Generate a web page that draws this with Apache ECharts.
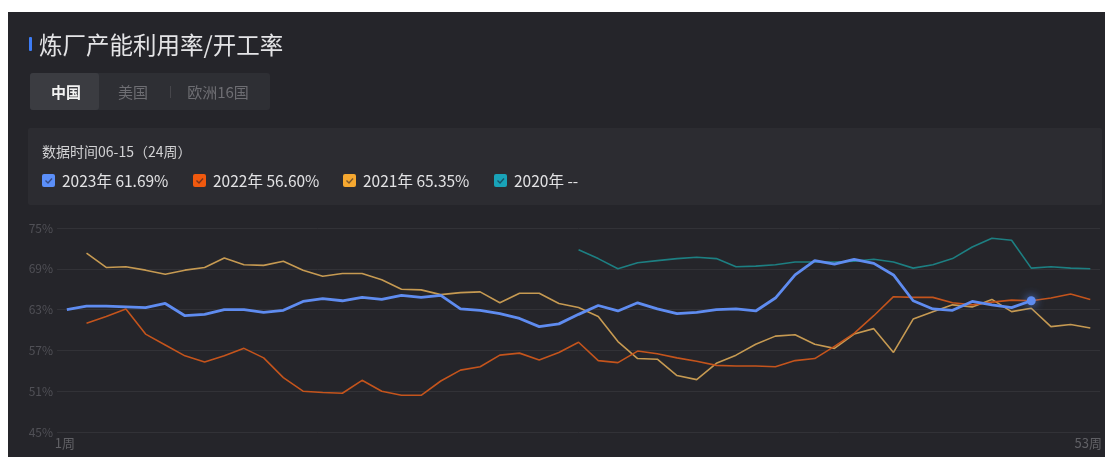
<!DOCTYPE html>
<html>
<head>
<meta charset="utf-8">
<title>炼厂产能利用率/开工率</title>
<script src="https://cdn.jsdelivr.net/npm/echarts@6/dist/echarts.min.js"></script>
<style>
    html, body { margin: 0; padding: 0; background: #ffffff; }
    #main { width: 1105px; height: 457px; }
</style>
</head>
<body>
<div id="main"></div>
<script>
var weeks = [];
for (var i = 1; i <= 53; i++) {
    weeks.push(i + '周');
}

var years = ['2023年', '2022年', '2021年', '2020年'];
var latest = ['61.69%', '56.60%', '65.35%', '--'];
var tabs = ['中国', '美国', '欧洲16国'];
var yTicks = [45, 75, 6];

var s2023 = [63.0, 63.5, 63.5, 63.4, 63.3, 63.9, 62.1, 62.3, 63.0, 63.0,
    62.6, 62.9, 64.2, 64.6, 64.3, 64.8, 64.5, 65.1, 64.8, 65.1,
    63.1, 62.9, 62.4, 61.7, 60.5, 60.9, 62.3, 63.6, 62.8, 64.0,
    63.1, 62.4, 62.6, 63.0, 63.1, 62.8, 64.7, 68.1, 70.2, 69.7,
    70.4, 69.8, 68.1, 64.3, 63.1, 62.9, 64.2, 63.7, 63.3, 64.3,
    null, null, null];
var s2022 = [null, 61.0, 62.0, 63.1, 59.4, 57.8, 56.2, 55.3, 56.2, 57.3,
    55.9, 53.0, 51.0, 50.8, 50.7, 52.6, 51.0, 50.4, 50.4, 52.5,
    54.1, 54.6, 56.3, 56.6, 55.6, 56.7, 58.2, 55.5, 55.2, 56.9,
    56.5, 55.9, 55.4, 54.8, 54.7, 54.7, 54.6, 55.5, 55.8, 57.6,
    59.5, 62.1, 64.9, 64.8, 64.8, 64.0, 63.7, 64.1, 64.4, 64.3,
    64.7, 65.3, 64.5];
var s2021 = [null, 71.3, 69.2, 69.3, 68.8, 68.2, 68.8, 69.2, 70.6, 69.6,
    69.5, 70.1, 68.8, 67.9, 68.3, 68.3, 67.4, 66.0, 65.9, 65.2,
    65.5, 65.6, 64.0, 65.4, 65.4, 63.9, 63.3, 62.0, 58.3, 55.8,
    55.7, 53.3, 52.7, 55.1, 56.3, 57.9, 59.1, 59.3, 57.9, 57.3,
    59.4, 60.2, 56.7, 61.6, 62.7, 63.7, 63.4, 64.5, 62.7, 63.2,
    60.5, 60.8, 60.3];
var s2020 = [null, null, null, null, null, null, null, null, null, null,
    null, null, null, null, null, null, null, null, null, null,
    null, null, null, null, null, null, 71.8, 70.5, 69.0, 69.9,
    70.2, 70.5, 70.7, 70.5, 69.3, 69.4, 69.6, 70.0, 70.0, 70.0,
    70.1, 70.4, 70.0, 69.1, 69.6, 70.5, 72.2, 73.5, 73.2, 69.1,
    69.3, 69.1, 69.0];

var boxColors = ['#5b8ff9', '#f0590e', '#f6a830', '#19a3b8'];
var lineColors = ['#5f8cf0', '#c4541c', '#c69a52', '#1d7f82'];
var font = '"Noto Sans CJK SC", "Noto Sans", sans-serif';

// 最后一个有效点画圆点
var last2023 = 0;
for (var k = 0; k < s2023.length; k++) {
    if (s2023[k] != null) last2023 = k;
}

function BuildGraphic() {
    var list = [];
    // 深色面板
    list.push({ type: 'rect', shape: { x: 8, y: 12, width: 1097, height: 445 }, style: { fill: '#25252a' }, z: -10 });
    // 标题
    list.push({ type: 'rect', shape: { x: 29, y: 37, width: 3, height: 14, r: 1 }, style: { fill: '#3d7cf5' } });
    list.push({ type: 'text', style: { x: 39, y: 45, text: '炼厂产能利用率/开工率', font: '23.5px ' + font, fill: '#e4e4e6', textVerticalAlign: 'middle' } });
    // 选项卡
    list.push({ type: 'rect', shape: { x: 30, y: 73, width: 240, height: 37, r: 3 }, style: { fill: '#2e2f34' } });
    list.push({ type: 'rect', shape: { x: 30, y: 73, width: 69, height: 37, r: 3 }, style: { fill: '#3b3c41' } });
    var tabX = [66, 133, 218];
    for (var t = 0; t < tabs.length; t++) {
        list.push({
            type: 'text',
            style: {
                x: tabX[t], y: 92, text: tabs[t],
                font: (t == 0 ? 'bold ' : '') + '15px ' + font,
                fill: t == 0 ? '#f2f2f2' : '#6e6e73',
                textAlign: 'center', textVerticalAlign: 'middle'
            }
        });
    }
    list.push({ type: 'rect', shape: { x: 170, y: 86, width: 1, height: 12 }, style: { fill: '#46464b' } });
    // 图例面板
    list.push({ type: 'rect', shape: { x: 28, y: 128, width: 1074, height: 77, r: 2 }, style: { fill: '#2c2c31' } });
    list.push({ type: 'text', style: { x: 42, y: 152, text: '数据时间06-15（24周）', font: '14px ' + font, fill: '#d2d2d4', textVerticalAlign: 'middle' } });
    var itemX = [42, 193, 343, 494];
    for (var j = 0; j < years.length; j++) {
        var bx = itemX[j], by = 174;
        list.push({ type: 'rect', shape: { x: bx, y: by, width: 13, height: 13, r: 2 }, style: { fill: boxColors[j] } });
        list.push({
            type: 'polyline',
            shape: { points: [[bx + 3.5, by + 6.5], [bx + 6, by + 9], [bx + 10, by + 4.5]] },
            style: { stroke: 'rgba(20,20,40,0.55)', lineWidth: 1.4, fill: null }
        });
        list.push({
            type: 'text',
            style: { x: bx + 20, y: by + 7, text: years[j] + ' ' + latest[j], font: '15.5px ' + font, fill: '#e2e2e4', textVerticalAlign: 'middle' }
        });
    }
    return list;
}

function MakeLine(name, data, idx, width, z) {
    return {
        name: name,
        type: 'line',
        data: data,
        z: z,
        smooth: false,
        connectNulls: false,
        showSymbol: idx == 0,
        showAllSymbol: true,
        symbol: idx == 0 ? function (v, p) { return p.dataIndex == last2023 ? 'circle' : 'none'; } : 'none',
        symbolSize: 9,
        itemStyle: {
            color: lineColors[idx],
            shadowBlur: idx == 0 ? 10 : 0,
            shadowColor: 'rgba(91,143,249,0.9)'
        },
        lineStyle: { color: lineColors[idx], width: width },
        animation: false
    };
}

var myChart = echarts.init(document.getElementById('main'), null, { renderer: 'canvas' });

var option = {
    backgroundColor: 'transparent',
    textStyle: { fontFamily: font },
    graphic: BuildGraphic(),
    grid: { left: 57, right: 3, top: 228, bottom: 25, containLabel: false },
    xAxis: {
        type: 'category',
        data: weeks,
        boundaryGap: true,
        axisLine: { show: false },
        axisTick: { show: false },
        axisLabel: {
            color: '#606065',
            fontSize: 13,
            margin: 5,
            interval: function (index) { return index == 0 || index == weeks.length - 1; },
            padding: [0, 4, 0, 0]
        },
        splitLine: { show: false }
    },
    yAxis: {
        type: 'value',
        min: yTicks[0],
        max: yTicks[1],
        interval: yTicks[2],
        axisLine: { show: false },
        axisTick: { show: false },
        axisLabel: { color: '#505056', fontSize: 12, margin: 4, formatter: '{value}%' },
        splitLine: { lineStyle: { color: '#323237', width: 1 } }
    },
    series: [
        MakeLine(years[3], s2020, 3, 1.6, 2),
        MakeLine(years[2], s2021, 2, 1.6, 3),
        MakeLine(years[1], s2022, 1, 1.6, 4),
        MakeLine(years[0], s2023, 0, 2.8, 5)
    ]
};

myChart.setOption(option);
</script>
</body>
</html>
